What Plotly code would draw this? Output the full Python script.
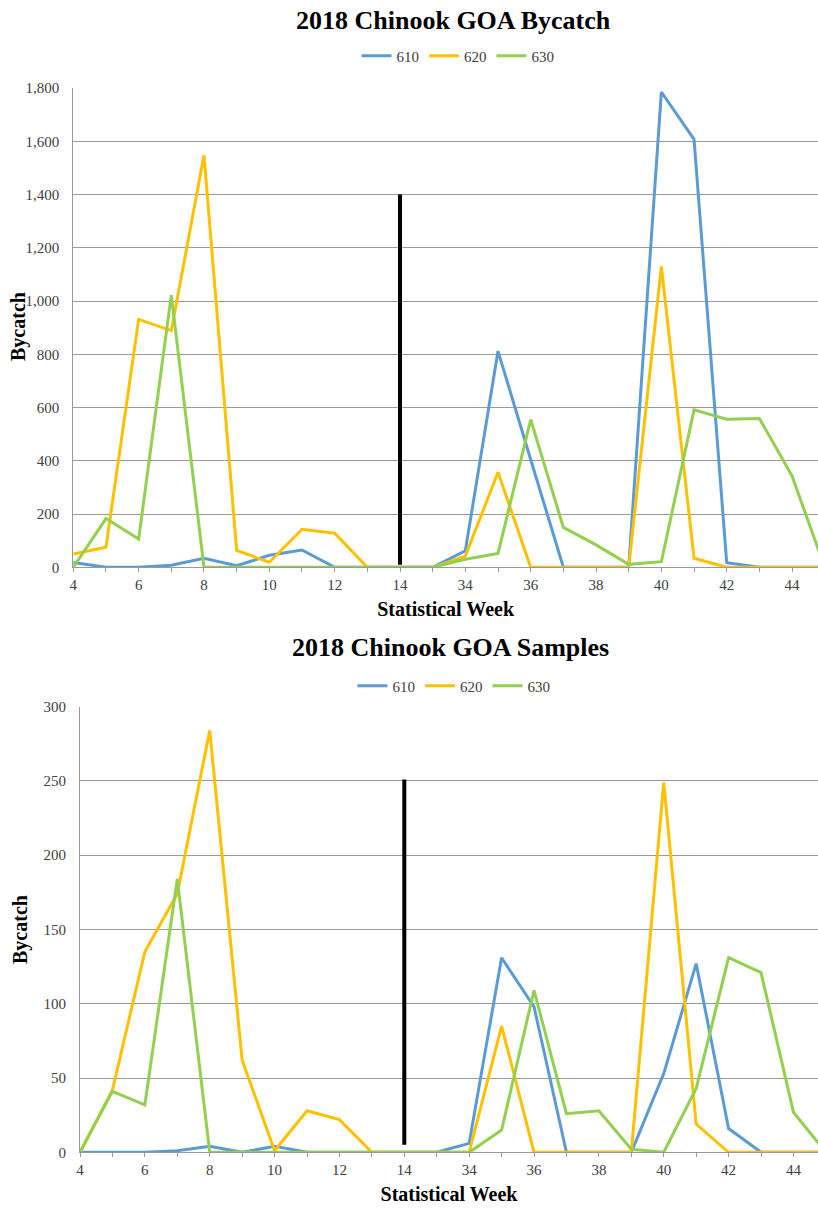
import plotly.graph_objects as go

weeks = ["4", "5", "6", "7", "8", "9", "10", "11", "12", "13", "14", "33",
         "34", "35", "36", "37", "38", "39", "40", "41", "42", "43", "44", "45"]
tick_weeks = ["4", "6", "8", "10", "12", "14", "34", "36", "38", "40", "42", "44"]

bycatch_610 = [18, 0, 0, 8, 34, 6, 45, 65, 0, 0, 0, 0,
               62, 812, 405, 0, 0, 0, 1785, 1607, 17, 0, 0, 0]
bycatch_620 = [50, 75, 931, 889, 1547, 63, 19, 143, 128, 0, 0, 0,
               42, 357, 0, 0, 0, 0, 1130, 34, 0, 0, 0, 0]
bycatch_630 = [0, 183, 106, 1022, 0, 0, 0, 0, 0, 0, 0, 0,
               30, 52, 555, 150, 84, 11, 21, 591, 556, 559, 343, 0]

samples_610 = [0, 0, 0, 1, 4, 0, 4, 0, 0, 0, 0, 0,
               6, 131, 98, 0, 0, 0, 53, 127, 16, 0, 0, 0]
samples_620 = [0, 42, 135, 174, 284, 62, 1, 28, 22, 0, 0, 0,
               0, 85, 0, 0, 0, 0, 249, 19, 0, 0, 0, 0]
samples_630 = [0, 41, 32, 184, 0, 0, 0, 0, 0, 0, 0, 0,
               0, 15, 109, 26, 28, 2, 0, 43, 131, 121, 27, 0]

separator_week = "14"
bycatch_separator = [10, 1400]
samples_separator = [5, 251]

series_names = ["610", "620", "630"]
colors = {"610": "#5B9BD5", "620": "#FFC000", "630": "#92D050"}

FONT = "Liberation Serif, Times New Roman, serif"
W, H = 818, 1209

fig = go.Figure()

top = {"610": bycatch_610, "620": bycatch_620, "630": bycatch_630}
bot = {"610": samples_610, "620": samples_620, "630": samples_630}

for name in series_names:
    fig.add_trace(go.Scatter(x=weeks, y=top[name], name=name, mode="lines",
                             line=dict(color=colors[name], width=3),
                             xaxis="x", yaxis="y", legend="legend"))
fig.add_trace(go.Scatter(x=[separator_week, separator_week], y=bycatch_separator,
                         mode="lines", line=dict(color="black", width=4),
                         showlegend=False, xaxis="x", yaxis="y"))

for name in series_names:
    fig.add_trace(go.Scatter(x=weeks, y=bot[name], name=name, mode="lines",
                             line=dict(color=colors[name], width=3),
                             xaxis="x2", yaxis="y2", legend="legend2"))
fig.add_trace(go.Scatter(x=[separator_week, separator_week], y=samples_separator,
                         mode="lines", line=dict(color="black", width=4),
                         showlegend=False, xaxis="x2", yaxis="y2"))

ticktext = [w if w in tick_weeks else "" for w in weeks]

def xaxis(domain_left, anchor, span):
    return dict(type="category", categoryorder="array", categoryarray=weeks,
                domain=[domain_left, 1], anchor=anchor, range=[0, span],
                automargin=False,
                tickmode="array", tickvals=weeks, ticktext=ticktext,
                ticks="outside", ticklen=4, tickcolor="#999999",
                showline=True, linecolor="#999999", linewidth=1,
                showgrid=False, zeroline=False,
                tickfont=dict(family=FONT, size=15, color="#404040"),
                title=dict(text="<b>Statistical Week</b>",
                           font=dict(family=FONT, size=20, color="black"),
                           standoff=9))

def yaxis(d0, d1, anchor, rng, dtick):
    return dict(domain=[d0, d1], anchor=anchor, range=rng, dtick=dtick,
                automargin=False,
                tickformat=",", showgrid=True, gridcolor="#9a9a9a", gridwidth=1,
                showline=True, linecolor="#999999", linewidth=1,
                zeroline=False, ticks="", ticklabelstandoff=10,
                tickfont=dict(family=FONT, size=15, color="#404040"))

top_left = 73.3 / W
bot_left = 80.0 / W

def label(text, x, y, size, angle=0):
    return dict(text=text, x=x / W, y=1 - y / H, xref="paper", yref="paper",
                xanchor="center", yanchor="middle", showarrow=False,
                textangle=angle, font=dict(family=FONT, size=size, color="black"))

fig.update_layout(
    width=W, height=H,
    margin=dict(l=0, r=0, t=0, b=0, autoexpand=False),
    paper_bgcolor="white", plot_bgcolor="white",
    font=dict(family=FONT),
    xaxis=xaxis(top_left, "y", (W - 73.3) / 32.67),
    yaxis=yaxis(1 - 567.3 / H, 1 - 88 / H, "x", [0, 1800], 200),
    xaxis2=xaxis(bot_left, "y2", (W - 80.0) / 32.43),
    yaxis2=yaxis(1 - 1152.3 / H, 1 - 706.7 / H, "x2", [0, 300], 50),
    legend=dict(orientation="h", x=458 / W, xanchor="center",
                y=1 - 56 / H, yanchor="middle",
                font=dict(family=FONT, size=15, color="#404040"),
                itemwidth=30, bgcolor="rgba(0,0,0,0)"),
    legend2=dict(orientation="h", x=454 / W, xanchor="center",
                 y=1 - 686 / H, yanchor="middle",
                 font=dict(family=FONT, size=15, color="#404040"),
                 itemwidth=30, bgcolor="rgba(0,0,0,0)"),
    annotations=[
        label("<b>2018 Chinook GOA Bycatch</b>", 454, 20, 26),
        label("<b>2018 Chinook GOA Samples</b>", 450, 648, 26),
        label("<b>Bycatch</b>", 18, 327, 20, -90),
        label("<b>Bycatch</b>", 20, 930, 20, -90),
    ],
)

fig.write_html("out.html",
               config={"displayModeBar": False},
               post_script="document.body.style.margin='0';"
                           "document.body.style.overflow='hidden';")
